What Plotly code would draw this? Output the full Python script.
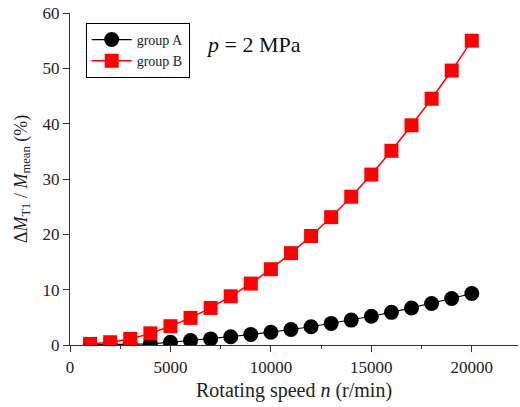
import plotly.graph_objects as go

speed = [1000, 2000, 3000, 4000, 5000, 6000, 7000, 8000, 9000, 10000,
         11000, 12000, 13000, 14000, 15000, 16000, 17000, 18000, 19000, 20000]
group_a = [0.02, 0.05, 0.1, 0.2, 0.5, 0.8, 1.1, 1.5, 1.9, 2.3,
           2.8, 3.3, 3.9, 4.5, 5.2, 5.9, 6.7, 7.5, 8.4, 9.3]
group_b = [0.2, 0.5, 1.1, 2.1, 3.4, 4.9, 6.7, 8.8, 11.1, 13.7,
           16.6, 19.7, 23.1, 26.8, 30.8, 35.1, 39.7, 44.5, 49.6, 55.0]
x_ticks = [0, 5000, 10000, 15000, 20000]
y_ticks = [0, 10, 20, 30, 40, 50, 60]

FONT = "Liberation Serif, Times New Roman, serif"

fig = go.Figure()
fig.add_trace(go.Scatter(
    x=speed, y=group_a, name="group A", mode="lines+markers",
    line=dict(color="black", width=1.2),
    marker=dict(symbol="circle", size=15, color="black"),
))
fig.add_trace(go.Scatter(
    x=speed, y=group_b, name="group B", mode="lines+markers",
    line=dict(color="#ff0000", width=1.5),
    marker=dict(symbol="square", size=14, color="#ff0000"),
))

fig.update_layout(
    width=520, height=407,
    margin=dict(l=70, r=2, t=13, b=62),
    paper_bgcolor="white", plot_bgcolor="white",
    font=dict(family=FONT, size=17, color="#222"),
    showlegend=True,
    legend=dict(
        x=0.035, y=0.97, xanchor="left", yanchor="top",
        bordercolor="black", borderwidth=1, bgcolor="white",
        font=dict(family=FONT, size=14, color="#222"),
        tracegroupgap=0, itemwidth=40,
    ),
    xaxis=dict(
        range=[0, 22300], tickvals=x_ticks, ticktext=[str(v) for v in x_ticks],
        showline=True, linecolor="#333", linewidth=1.2,
        ticks="outside", ticklen=6, tickcolor="#333",
        minor=dict(ticks="outside", ticklen=3, dtick=2500, tickcolor="#333"),
        showgrid=False, zeroline=False, automargin=False,
    ),
    yaxis=dict(
        range=[0, 60], tickvals=y_ticks,
        showline=True, linecolor="#333", linewidth=1.2,
        ticks="outside", ticklen=6, tickcolor="#333",
        showgrid=False, zeroline=False, automargin=False,
        title=dict(text="Δ<i>M</i><sub>T1</sub> / <i>M</i><sub>mean</sub> (%)",
                   font=dict(size=18), standoff=10),
    ),
    annotations=[
        dict(
            x=0.30, y=0.905, xref="paper", yref="paper", xanchor="left", yanchor="middle",
            text="<i>p</i> = 2 MPa", showarrow=False,
            font=dict(family=FONT, size=22, color="#111"),
        ),
        dict(
            x=0.5, y=-0.137, xref="paper", yref="paper", xanchor="center", yanchor="middle",
            text="Rotating speed <i>n</i> (r/min)", showarrow=False,
            font=dict(family=FONT, size=20, color="#222"),
        ),
    ],
)

fig.write_html("out.html", config={"displayModeBar": False},
               post_script="document.body.style.margin='0';")
